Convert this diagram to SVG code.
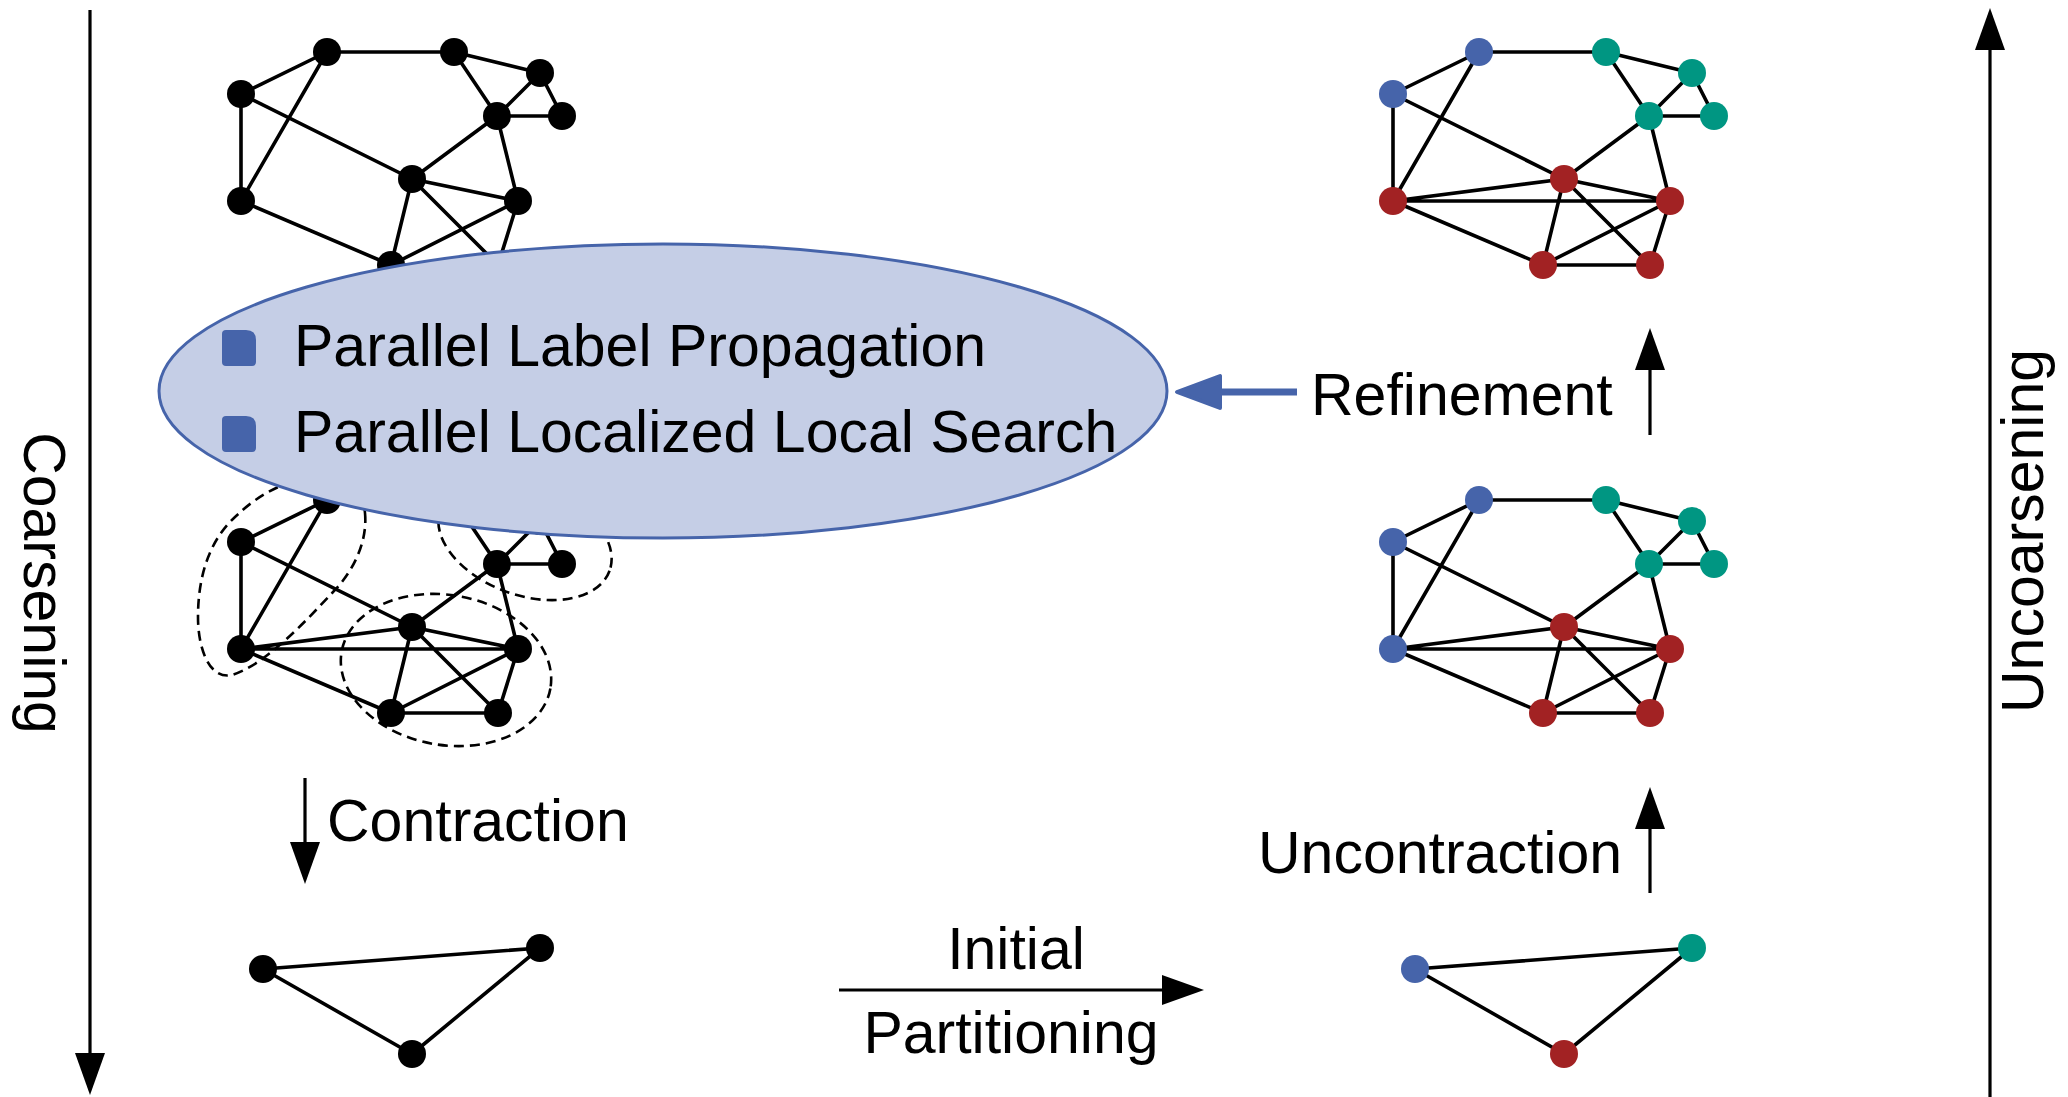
<svg xmlns="http://www.w3.org/2000/svg" xmlns:xlink="http://www.w3.org/1999/xlink" width="2068" height="1097" viewBox="0 0 2068 1097">
<style>
.e{stroke:#000;stroke-width:3.6;fill:none;stroke-linecap:round}
.k{fill:#000}
.b{fill:#4664AA}
.t{fill:#009682}
.r{fill:#A22223}
.lbl{font-family:"Liberation Sans",Arial,sans-serif;font-size:59px;fill:#000}
.dash{fill:none;stroke:#000;stroke-width:2.6;stroke-dasharray:10 6}
.ax{stroke:#000;stroke-width:3.2;fill:none}
</style>
<defs>
<marker id="ah" viewBox="0 0 42 30" refX="22" refY="15" markerWidth="42" markerHeight="30" markerUnits="userSpaceOnUse" orient="auto">
<path d="M0,0 L42,15 L0,30 Z" fill="#000"/>
</marker>
<path id="bullet" d="M0,4 Q0,0 4,0 H24 Q34,0 34,10 V32 Q34,36 30,36 H4 Q0,36 0,32 Z"/>
</defs>
<rect width="2068" height="1097" fill="#fff"/>

<!-- Connectors -->
<g id="connectors">
  <g id="edges-top-left">
    <path class="e" d="M241,94L327,52 M327,52L454,52 M327,52L241,201 M241,94L241,201 M241,94L412,179 M454,52L540,73 M454,52L497,116 M540,73L497,116 M540,73L562,116 M497,116L562,116 M497,116L412,179 M497,116L518,201 M412,179L518,201 M241,201L391,265 M412,179L391,265 M412,179L498,265 M518,201L391,265 M518,201L498,265 M391,265L498,265"/>
  </g>
  <g id="edges-mid-left" transform="translate(0,448)">
    <path class="e" d="M241,94L327,52 M327,52L454,52 M327,52L241,201 M241,94L241,201 M241,94L412,179 M454,52L540,73 M454,52L497,116 M540,73L497,116 M540,73L562,116 M497,116L562,116 M497,116L412,179 M497,116L518,201 M412,179L518,201 M241,201L391,265 M412,179L391,265 M412,179L498,265 M518,201L391,265 M518,201L498,265 M391,265L498,265 M412,179L241,201 M241,201L518,201"/>
  </g>
  <g id="edges-top-right" transform="translate(1152,0)">
    <path class="e" d="M241,94L327,52 M327,52L454,52 M327,52L241,201 M241,94L241,201 M241,94L412,179 M454,52L540,73 M454,52L497,116 M540,73L497,116 M540,73L562,116 M497,116L562,116 M497,116L412,179 M497,116L518,201 M412,179L518,201 M241,201L391,265 M412,179L391,265 M412,179L498,265 M518,201L391,265 M518,201L498,265 M391,265L498,265 M412,179L241,201 M241,201L518,201"/>
  </g>
  <g id="edges-mid-right" transform="translate(1152,448)">
    <path class="e" d="M241,94L327,52 M327,52L454,52 M327,52L241,201 M241,94L241,201 M241,94L412,179 M454,52L540,73 M454,52L497,116 M540,73L497,116 M540,73L562,116 M497,116L562,116 M497,116L412,179 M497,116L518,201 M412,179L518,201 M241,201L391,265 M412,179L391,265 M412,179L498,265 M518,201L391,265 M518,201L498,265 M391,265L498,265 M412,179L241,201 M241,201L518,201"/>
  </g>
  <g id="edges-bottom-left">
    <path class="e" d="M263,969L540,948 M263,969L412,1054 M412,1054L540,948"/>
  </g>
  <g id="edges-bottom-right" transform="translate(1152,0)">
    <path class="e" d="M263,969L540,948 M263,969L412,1054 M412,1054L540,948"/>
  </g>
</g>

<!-- Dashed cluster outlines -->
<g id="clusters">
  <path class="dash" d="M365,513 C368,545 350,575 333,592 C305,622 265,665 232,675 C210,680 198,650 198,617 C198,575 210,540 235,517 C255,498 270,490 290,482 C330,468 362,480 365,513 Z"/>
  <ellipse class="dash" cx="525" cy="540" rx="90" ry="55" transform="rotate(20 525 540)"/>
  <ellipse class="dash" cx="446" cy="670" rx="106" ry="75" transform="rotate(10 446 670)"/>
</g>

<!-- Top-left graph nodes -->
<g id="graph-top-left">
  <g id="tl-a"><circle class="k" cx="327" cy="52" r="14"/></g>
  <g id="tl-b"><circle class="k" cx="454" cy="52" r="14"/></g>
  <g id="tl-c"><circle class="k" cx="540" cy="73" r="14"/></g>
  <g id="tl-d"><circle class="k" cx="241" cy="94" r="14"/></g>
  <g id="tl-e"><circle class="k" cx="497" cy="116" r="14"/></g>
  <g id="tl-f"><circle class="k" cx="562" cy="116" r="14"/></g>
  <g id="tl-g"><circle class="k" cx="412" cy="179" r="14"/></g>
  <g id="tl-h"><circle class="k" cx="241" cy="201" r="14"/></g>
  <g id="tl-i"><circle class="k" cx="518" cy="201" r="14"/></g>
  <g id="tl-j"><circle class="k" cx="391" cy="265" r="14"/></g>
  <g id="tl-k"><circle class="k" cx="498" cy="265" r="14"/></g>
</g>

<!-- Middle-left graph nodes -->
<g id="graph-mid-left" transform="translate(0,448)">
  <g id="ml-a"><circle class="k" cx="327" cy="52" r="14"/></g>
  <g id="ml-b"><circle class="k" cx="454" cy="52" r="14"/></g>
  <g id="ml-c"><circle class="k" cx="540" cy="73" r="14"/></g>
  <g id="ml-d"><circle class="k" cx="241" cy="94" r="14"/></g>
  <g id="ml-e"><circle class="k" cx="497" cy="116" r="14"/></g>
  <g id="ml-f"><circle class="k" cx="562" cy="116" r="14"/></g>
  <g id="ml-g"><circle class="k" cx="412" cy="179" r="14"/></g>
  <g id="ml-h"><circle class="k" cx="241" cy="201" r="14"/></g>
  <g id="ml-i"><circle class="k" cx="518" cy="201" r="14"/></g>
  <g id="ml-j"><circle class="k" cx="391" cy="265" r="14"/></g>
  <g id="ml-k"><circle class="k" cx="498" cy="265" r="14"/></g>
</g>

<!-- Top-right graph nodes -->
<g id="graph-top-right" transform="translate(1152,0)">
  <g id="tr-a"><circle class="b" cx="327" cy="52" r="14"/></g>
  <g id="tr-b"><circle class="t" cx="454" cy="52" r="14"/></g>
  <g id="tr-c"><circle class="t" cx="540" cy="73" r="14"/></g>
  <g id="tr-d"><circle class="b" cx="241" cy="94" r="14"/></g>
  <g id="tr-e"><circle class="t" cx="497" cy="116" r="14"/></g>
  <g id="tr-f"><circle class="t" cx="562" cy="116" r="14"/></g>
  <g id="tr-g"><circle class="r" cx="412" cy="179" r="14"/></g>
  <g id="tr-h"><circle class="r" cx="241" cy="201" r="14"/></g>
  <g id="tr-i"><circle class="r" cx="518" cy="201" r="14"/></g>
  <g id="tr-j"><circle class="r" cx="391" cy="265" r="14"/></g>
  <g id="tr-k"><circle class="r" cx="498" cy="265" r="14"/></g>
</g>

<!-- Middle-right graph nodes -->
<g id="graph-mid-right" transform="translate(1152,448)">
  <g id="mr-a"><circle class="b" cx="327" cy="52" r="14"/></g>
  <g id="mr-b"><circle class="t" cx="454" cy="52" r="14"/></g>
  <g id="mr-c"><circle class="t" cx="540" cy="73" r="14"/></g>
  <g id="mr-d"><circle class="b" cx="241" cy="94" r="14"/></g>
  <g id="mr-e"><circle class="t" cx="497" cy="116" r="14"/></g>
  <g id="mr-f"><circle class="t" cx="562" cy="116" r="14"/></g>
  <g id="mr-g"><circle class="r" cx="412" cy="179" r="14"/></g>
  <g id="mr-h"><circle class="b" cx="241" cy="201" r="14"/></g>
  <g id="mr-i"><circle class="r" cx="518" cy="201" r="14"/></g>
  <g id="mr-j"><circle class="r" cx="391" cy="265" r="14"/></g>
  <g id="mr-k"><circle class="r" cx="498" cy="265" r="14"/></g>
</g>

<!-- Bottom graphs -->
<g id="graph-bottom-left">
  <g id="bl-a"><circle class="k" cx="263" cy="969" r="14"/></g>
  <g id="bl-b"><circle class="k" cx="540" cy="948" r="14"/></g>
  <g id="bl-c"><circle class="k" cx="412" cy="1054" r="14"/></g>
</g>
<g id="graph-bottom-right">
  <g id="br-a"><circle class="b" cx="1415" cy="969" r="14"/></g>
  <g id="br-b"><circle class="t" cx="1692" cy="948" r="14"/></g>
  <g id="br-c"><circle class="r" cx="1564" cy="1054" r="14"/></g>
</g>

<!-- Refinement callout -->
<g id="refinement-callout">
  <ellipse cx="663" cy="391" rx="504" ry="147" fill="#C5CEE6" stroke="#4664AA" stroke-width="3"/>
  <use xlink:href="#bullet" href="#bullet" x="222" y="330" fill="#4664AA"/>
  <use xlink:href="#bullet" href="#bullet" x="222" y="416" fill="#4664AA"/>
  <text class="lbl" x="294" y="366">Parallel Label Propagation</text>
  <text class="lbl" x="294" y="452">Parallel Localized Local Search</text>
</g>

<!-- Process arrows -->
<g id="arrows">
  <line class="ax" x1="90" y1="10" x2="90" y2="1075" marker-end="url(#ah)"/>
  <line class="ax" x1="1990" y1="1097" x2="1990" y2="28" marker-end="url(#ah)"/>
  <line class="ax" x1="1650" y1="435" x2="1650" y2="348" marker-end="url(#ah)"/>
  <line class="ax" x1="1650" y1="893" x2="1650" y2="807" marker-end="url(#ah)"/>
  <line class="ax" x1="305" y1="778" x2="305" y2="864" marker-end="url(#ah)"/>
  <line class="ax" x1="839" y1="990" x2="1184" y2="990" marker-end="url(#ah)"/>
  <g id="blue-arrow">
    <line x1="1297" y1="392" x2="1212" y2="392" stroke="#4664AA" stroke-width="7"/>
    <polygon points="1177,392 1220,376 1220,408" fill="#4664AA" stroke="#4664AA" stroke-width="4" stroke-linejoin="round"/>
  </g>
</g>

<!-- Labels -->
<g id="labels">
  <text class="lbl" x="1311" y="415">Refinement</text>
  <text class="lbl" x="1258" y="873">Uncontraction</text>
  <text class="lbl" x="327" y="841">Contraction</text>
  <text class="lbl" x="1016" y="969" text-anchor="middle">Initial</text>
  <text class="lbl" x="1011" y="1053" text-anchor="middle">Partitioning</text>
  <text class="lbl" text-anchor="middle" transform="translate(24,583) rotate(90)">Coarsening</text>
  <text class="lbl" text-anchor="middle" transform="translate(2043,531) rotate(-90)">Uncoarsening</text>
</g>
</svg>
